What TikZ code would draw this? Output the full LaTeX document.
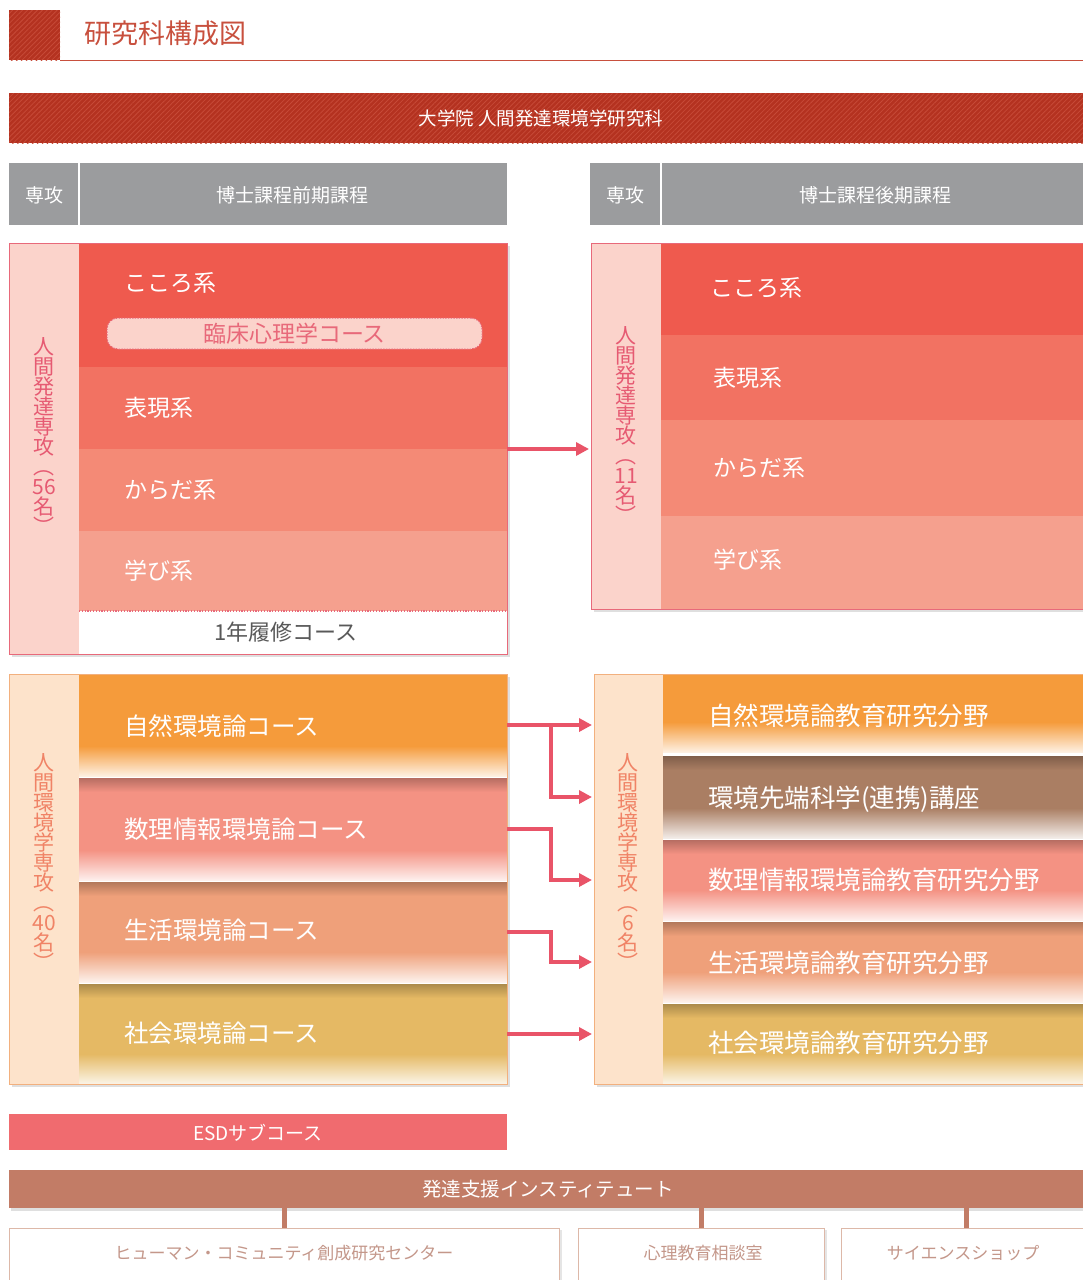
\documentclass[tikz,border=0pt]{standalone}
\usepackage{fontspec}
\setmainfont{Noto Sans CJK JP}
\usetikzlibrary{arrows.meta,calc,patterns.meta,shadows}
\definecolor{cDark}{HTML}{B43220}
\definecolor{cHatch}{HTML}{C64A38}
\definecolor{cTitle}{HTML}{C8503E}
\definecolor{cGray}{HTML}{9B9C9E}
\definecolor{cKokoro}{HTML}{EF5A4E}
\definecolor{cHyogen}{HTML}{F27262}
\definecolor{cKarada}{HTML}{F48A76}
\definecolor{cManabi}{HTML}{F5A08E}
\definecolor{cPinkCol}{HTML}{FBD3CB}
\definecolor{cPinkLine}{HTML}{E8697A}
\definecolor{cOrCol}{HTML}{FDE3CB}
\definecolor{cOrLine}{HTML}{F2B07E}
\definecolor{cShizen}{HTML}{F59B3B}
\definecolor{cSuri}{HTML}{F49283}
\definecolor{cSeikatsu}{HTML}{EFA07A}
\definecolor{cShakai}{HTML}{E5B964}
\definecolor{cSentan}{HTML}{AA7E63}
\definecolor{cESD}{HTML}{F06B6F}
\definecolor{cInst}{HTML}{C27C66}
\definecolor{cArrow}{HTML}{E95468}
\definecolor{cBoxLine}{HTML}{DDB8A8}
\definecolor{cBoxText}{HTML}{C4978A}
\definecolor{cVtextU}{HTML}{E65A72}
\definecolor{cVtextL}{HTML}{F08366}
\begin{document}
\begin{tikzpicture}[x=1pt,y=-1pt,
  box/.style={draw=none, inner sep=0, outer sep=0, anchor=north west, rectangle},
  hatchbox/.style={box, fill=cDark, postaction={pattern={Lines[angle=45,distance=3.5pt,line width=0.8pt]}, pattern color=cHatch}},
  grayhead/.style={box, fill=cGray, text=white, font=\fontsize{19}{22}\selectfont},
  flatband/.style={box, fill=#1},
  lblU/.style={anchor=west, inner sep=0, text=white, font=\fontsize{23}{27}\selectfont},
  lblL/.style={anchor=west, inner sep=0, text=white, font=\fontsize{24.5}{28}\selectfont},
  lblR/.style={anchor=west, inner sep=0, text=white, font=\fontsize{25.5}{29}\selectfont},
  vtxt/.style={inner sep=0, align=center, font=\fontsize{21}{20}\selectfont},
  shadowbox/.style={box, fill=white, drop shadow={shadow xshift=3pt, shadow yshift=-3pt, opacity=0.25}},
  arr/.style={draw=cArrow, line width=4pt, -{Triangle[length=13pt,width=13pt]}, shorten >=2pt},
  stub/.style={draw=cInst, line width=5pt},
  wbox/.style={box, fill=white, draw=cBoxLine, line width=0.8pt, drop shadow={shadow xshift=3pt, shadow yshift=-2pt, opacity=0.2}},
  wtxt/.style={inner sep=0, text=cBoxText, font=\fontsize{17}{20}\selectfont}
]
\clip (0,0) rectangle (1083,1280);
\fill[white] (0,0) rectangle (1083,1280);

% ---------- title ----------
\node[hatchbox, minimum width=51, minimum height=50] (tsq) at (9,10) {};
\node[anchor=west, inner sep=0, text=cTitle, font=\fontsize{27}{30}\selectfont] (ttl) at (84,33) {研究科構成図};
\coordinate (tend) at (1083,60);
\draw[cTitle, line width=1pt] (tsq.south east) -- (tend);

% ---------- banner ----------
\node[hatchbox, minimum width=1090, minimum height=50] (banner) at (9,93) {};
\node[inner sep=0, text=white, font=\fontsize{18.5}{22}\selectfont] (bannertxt) at (541,118) {大学院 人間発達環境学研究科};

% ---------- gray headers ----------
\node[grayhead, minimum width=70, minimum height=62] (hL1) at (9,163) {};
\node[grayhead, minimum width=428, minimum height=62] (hL2) at (79,163) {};
\node[grayhead, minimum width=71, minimum height=62] (hR1) at (590,163) {};
\node[grayhead, minimum width=440, minimum height=62] (hR2) at (661,163) {};
\draw[white, line width=1.2pt] (hL2.north west) -- (hL2.south west);
\draw[white, line width=1.2pt] (hR2.north west) -- (hR2.south west);
\node[inner sep=0, text=white, font=\fontsize{19}{22}\selectfont] (hL1t) at (44,195) {専攻};
\node[inner sep=0, text=white, font=\fontsize{19}{22}\selectfont] (hL2t) at (292,195) {博士課程前期課程};
\node[inner sep=0, text=white, font=\fontsize{19}{22}\selectfont] (hR1t) at (625,195) {専攻};
\node[inner sep=0, text=white, font=\fontsize{19}{22}\selectfont] (hR2t) at (875,195) {博士課程後期課程};

% ---------- upper left block ----------
\node[shadowbox, minimum width=498, minimum height=411] (ulB) at (9,243) {};
\node[box, fill=cPinkCol, minimum width=70, minimum height=411] (ulC) at (9,243) {};
\node[flatband=cKokoro, minimum width=428, minimum height=124] (kokoroL) at (79,243) {};
\node[flatband=cHyogen, minimum width=428, minimum height=82] (hyoL) at (79,367) {};
\node[flatband=cKarada, minimum width=428, minimum height=82] (karaL) at (79,449) {};
\node[flatband=cManabi, minimum width=428, minimum height=80] (manaL) at (79,531) {};
\node[box, fill=white, minimum width=428, minimum height=43] (oneL) at (79,611) {};
\draw[cPinkLine, line width=1.8pt, dash pattern=on 1.2pt off 1.6pt] (oneL.north west) -- (oneL.north east);
\node[inner sep=0, text=black!65, font=\fontsize{22}{26}\selectfont] (oneLt) at (286,632) {1年履修コース};
\node[lblU] (kokoroLt) at (124,283) {こころ系};
\node[draw=cPinkLine, line width=1pt, dash pattern=on 1.5pt off 1.2pt, fill=cPinkCol, rounded corners=11pt,
      minimum width=375, minimum height=31, inner sep=0, text=cPinkLine, font=\fontsize{23}{26}\selectfont]
      (rinsho) at (294.5,333.5) {臨床心理学コース};
\node[lblU] (hyoLt) at (124,408) {表現系};
\node[lblU] (karaLt) at (124,490) {からだ系};
\node[lblU] (manaLt) at (124,571) {学び系};
\node[vtxt, text=cVtextU] (vUL) at (44,436) {人\\間\\発\\達\\専\\攻\\︵\\56\\名\\︶};
\draw[cPinkLine, line width=1pt] (ulB.north west) rectangle (ulB.south east);

% ---------- upper right block ----------
\node[shadowbox, minimum width=500, minimum height=366] (urB) at (591,243) {};
\node[box, fill=cPinkCol, minimum width=70, minimum height=366] (urC) at (591,243) {};
\node[flatband=cKokoro, minimum width=430, minimum height=92] (kokoroR) at (661,243) {};
\node[flatband=cHyogen, minimum width=430, minimum height=85] (hyoR) at (661,335) {};
\node[flatband=cKarada, minimum width=430, minimum height=96] (karaR) at (661,420) {};
\node[flatband=cManabi, minimum width=430, minimum height=93] (manaR) at (661,516) {};
\node[lblU] (kokoroRt) at (710,288) {こころ系};
\node[lblU] (hyoRt) at (713,378) {表現系};
\node[lblU] (karaRt) at (713,468) {からだ系};
\node[lblU] (manaRt) at (713,560) {学び系};
\node[vtxt, text=cVtextU] (vUR) at (626,425) {人\\間\\発\\達\\専\\攻\\︵\\11\\名\\︶};
\draw[cPinkLine, line width=1pt] (urB.north west) rectangle (urB.south east);

\draw[arr] (hyoL.south east) -- (hyoL.south east -| urC.west);

% ---------- lower left block ----------
\node[shadowbox, minimum width=498, minimum height=410] (llB) at (9,674) {};
\node[box, fill=cOrCol, minimum width=70, minimum height=410] (llC) at (9,674) {};
\node[flatband=cShizen, minimum width=428, minimum height=102] (shizenL) at (79,674) {};
\node[flatband=cSuri, minimum width=428, minimum height=102] (suriL) at (79,778) {};
\node[flatband=cSeikatsu, minimum width=428, minimum height=100] (seiL) at (79,882) {};
\node[flatband=cShakai, minimum width=428, minimum height=100] (shaL) at (79,984) {};

% ---------- lower right block ----------
\node[shadowbox, minimum width=500, minimum height=410] (lrB) at (594,674) {};
\node[box, fill=cOrCol, minimum width=69, minimum height=410] (lrC) at (594,674) {};
\node[flatband=cShizen, minimum width=430, minimum height=78] (shizenR) at (663,674) {};
\node[flatband=cSentan, minimum width=430, minimum height=82] (sentanR) at (663,756) {};
\node[flatband=cSuri, minimum width=430, minimum height=80] (suriR) at (663,840) {};
\node[flatband=cSeikatsu, minimum width=430, minimum height=80] (seiR) at (663,922) {};
\node[flatband=cShakai, minimum width=430, minimum height=80] (shaR) at (663,1004) {};

% fades (bottom of each band) and top shadows
\foreach \n/\c in {shizenL/cShizen, suriL/cSuri, seiL/cSeikatsu, shaL/cShakai,
                   shizenR/cShizen, sentanR/cSentan, suriR/cSuri, seiR/cSeikatsu, shaR/cShakai}{
  \shade[top color=\c, bottom color=\c!15!white]
     ($(\n.south west)+(0,-30)$) rectangle (\n.south east);
}
\foreach \n/\c in {suriL/cSuri, seiL/cSeikatsu, shaL/cShakai,
                   sentanR/cSentan, suriR/cSuri, seiR/cSeikatsu, shaR/cShakai}{
  \shade[top color=\c!75!black, bottom color=\c]
     (\n.north west) rectangle ($(\n.north east)+(0,14)$);
}

\node[lblL] (shizenLt) at (124,726) {自然環境論コース};
\node[lblL] (suriLt) at (124,829) {数理情報環境論コース};
\node[lblL] (seiLt) at (124,930) {生活環境論コース};
\node[lblL] (shaLt) at (124,1033) {社会環境論コース};
\node[vtxt, text=cVtextL] (vLL) at (44,862) {人\\間\\環\\境\\学\\専\\攻\\︵\\40\\名\\︶};
\draw[cOrLine, line width=1pt] (llB.north west) rectangle (llB.south east);

\node[lblR] (shizenRt) at (708,716) {自然環境論教育研究分野};
\node[lblR] (sentanRt) at (708,799) {環境先端科学(連携)講座};
\node[lblR] (suriRt) at (708,880) {数理情報環境論教育研究分野};
\node[lblR] (seiRt) at (708,963) {生活環境論教育研究分野};
\node[lblR] (shaRt) at (708,1043) {社会環境論教育研究分野};
\node[vtxt, text=cVtextL] (vLR) at (628,862) {人\\間\\環\\境\\学\\専\\攻\\︵\\6\\名\\︶};
\draw[cOrLine, line width=1pt] (lrB.north west) rectangle (lrB.south east);

% ---------- lower arrows ----------
\coordinate (j1) at ($(shizenL.east)!0.5!(shizenL.east -| lrC.west)$);
\draw[arr] (shizenL.east) -- (shizenL.east -| lrC.west);
\draw[arr] (j1) |- (sentanR.west -| lrC.west);
\draw[arr] (suriL.east) -- (suriL.east -| j1) -- (suriR.west -| j1) -- (suriR.west -| lrC.west);
\draw[arr] (seiL.east) -- (seiL.east -| j1) -- (seiR.west -| j1) -- (seiR.west -| lrC.west);
\draw[arr] (shaL.east) -- (shaL.east -| lrC.west);

% ---------- ESD ----------
\node[box, fill=cESD, minimum width=498, minimum height=36] (esd) at (9,1114) {};
\node[inner sep=0, text=white, font=\fontsize{19}{22}\selectfont] (esdt) at (258,1133) {ESDサブコース};

% ---------- institute ----------
\node[box, fill=cInst, minimum width=1090, minimum height=38,
      drop shadow={shadow xshift=2pt, shadow yshift=-3pt, opacity=0.25}] (inst) at (9,1170) {};
\node[inner sep=0, text=white, font=\fontsize{19.5}{22}\selectfont] (instt) at (548,1189) {発達支援インスティテュート};

\node[wbox, minimum width=550, minimum height=62] (hcrc) at (9,1228) {};
\node[wbox, minimum width=246, minimum height=62] (shinri) at (578,1228) {};
\node[wbox, minimum width=250, minimum height=62] (science) at (841,1228) {};
\draw[stub] (hcrc.north) -- (hcrc.north |- inst.south);
\draw[stub] (shinri.north) -- (shinri.north |- inst.south);
\draw[stub] (science.north) -- (science.north |- inst.south);
\node[wtxt] (hcrct) at (284,1253) {ヒューマン・コミュニティ創成研究センター};
\node[wtxt] (shinrit) at (703,1253) {心理教育相談室};
\node[wtxt] (sciencet) at (963,1253) {サイエンスショップ};
\end{tikzpicture}
\end{document}
